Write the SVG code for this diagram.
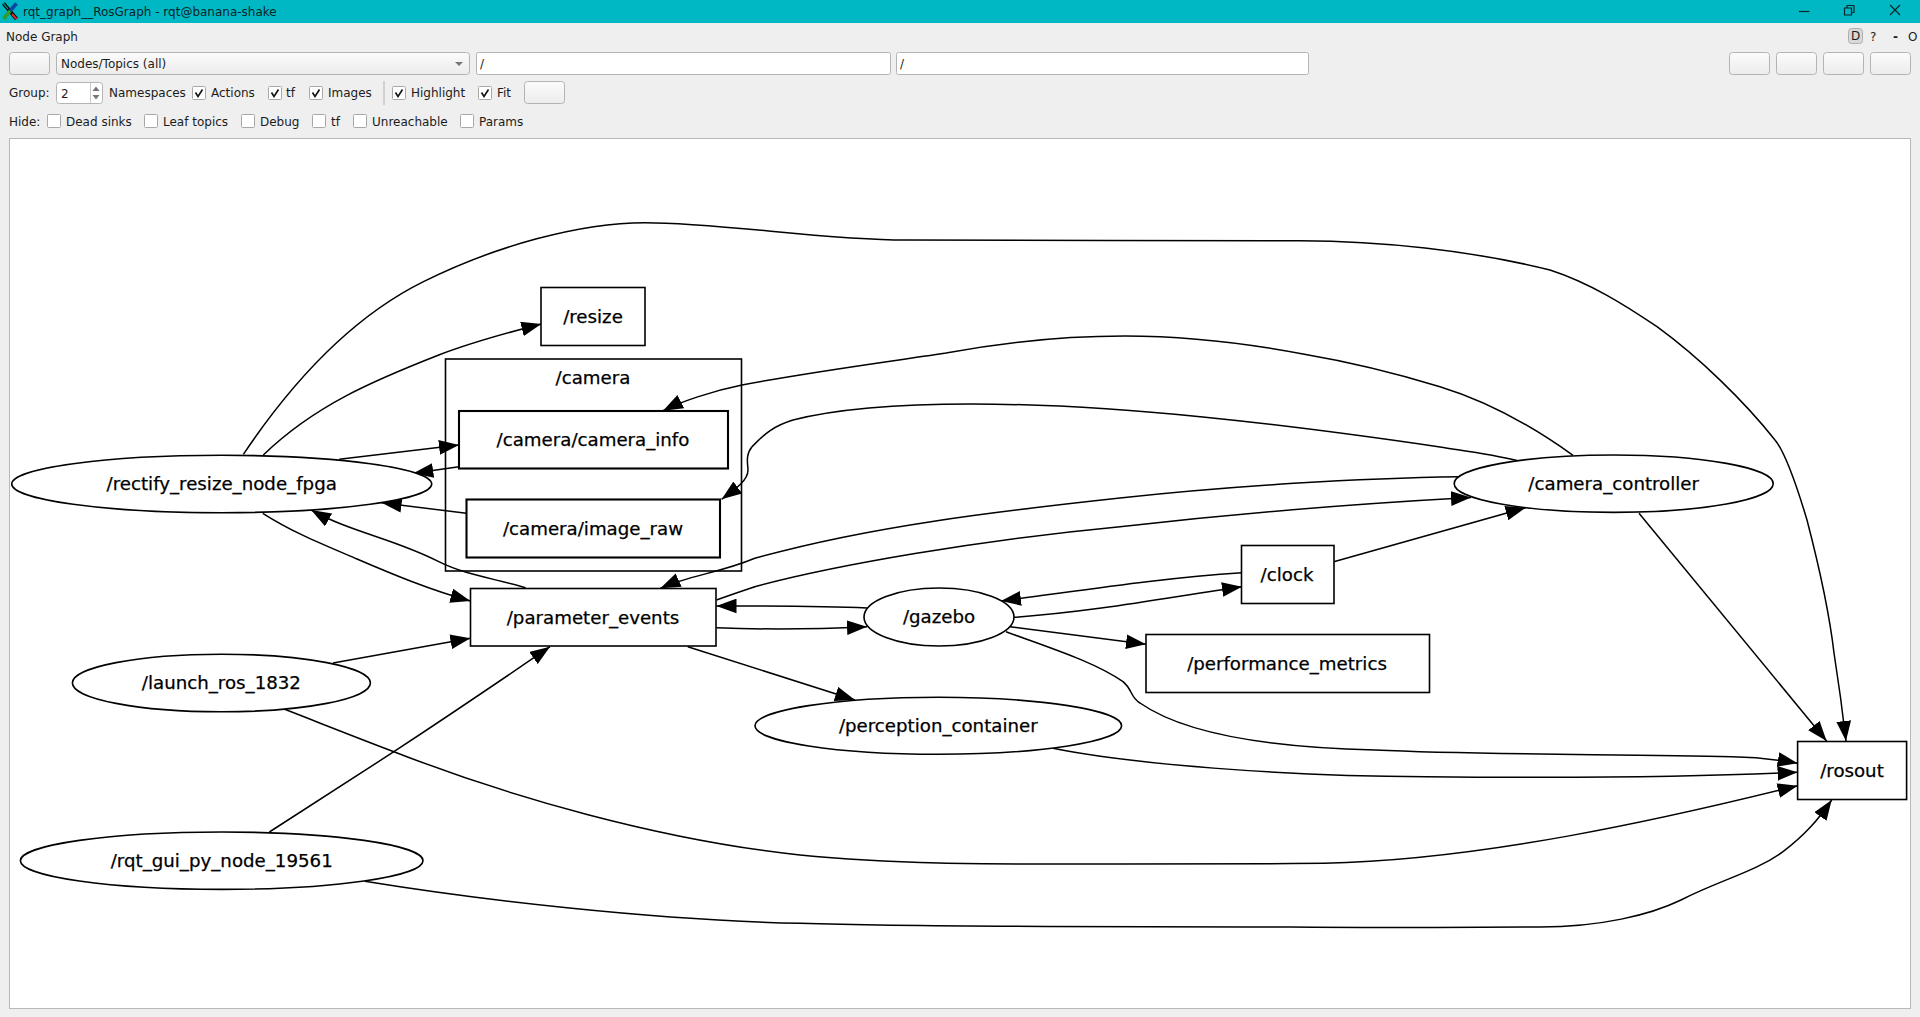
<svg xmlns="http://www.w3.org/2000/svg" width="1920" height="1017" viewBox="0 0 1920 1017">
<defs>
<marker id="ah" markerUnits="userSpaceOnUse" markerWidth="20" markerHeight="15" viewBox="0 0 19 14" refX="19" refY="7" orient="auto"><polygon points="0,0 19,7 0,14" fill="#000"/></marker>
<linearGradient id="btn" x1="0" y1="0" x2="0" y2="1"><stop offset="0" stop-color="#fbfbfb"/><stop offset="1" stop-color="#ececec"/></linearGradient>
</defs>
<style>
text{font-family:"DejaVu Sans",sans-serif}
.ui{font-size:12px;fill:#1c1c1c}
.ttl{font-size:12px;fill:#0a2528}
.b{fill:url(#btn);stroke:#b4b4b4;stroke-width:1}
.i{fill:#fff;stroke:#b4b4b4;stroke-width:1}
.c{fill:#fff;stroke:#a8a8a8;stroke-width:1}
.t{fill:none;stroke:#111;stroke-width:1.6}
.n{fill:#fff;stroke:#000;stroke-width:1.6}
.n2{fill:#fff;stroke:#000;stroke-width:2.1}
.lb{font-size:18.2px;fill:#000;stroke:#000;stroke-width:.25;text-anchor:middle;transform:translateY(-1px)}
#edges path{fill:none;stroke:#000;stroke-width:1.5;marker-end:url(#ah)}
</style>
<rect width="1920" height="1017" fill="#efefef"/>
<g id="window">
<rect width="1920" height="23" fill="#00b8c4"/>
<g fill="none" stroke-linecap="butt"><path d="M3.5,3.5 L16.5,19" stroke="#000" stroke-width="3.6"/><path d="M16.5,3.5 L10,11" stroke="#0d47a1" stroke-width="3.6"/><path d="M10,11 L3.5,19" stroke="#2e9e2e" stroke-width="3.6"/><path d="M3.5,3.5 L8,9" stroke="#12806a" stroke-width="1.6"/><path d="M12,14 L16.5,19" stroke="#d32f2f" stroke-width="2"/></g>
<text class="ttl" x="23" y="16">rqt_graph__RosGraph - rqt@banana-shake</text>
<path d="M1799,11.5 H1809.5" stroke="#0a2528" stroke-width="1.2"/>
<path d="M1844.5,8 H1851.5 V15 H1844.5 Z M1847,8 V5.5 H1854 V12.5 H1851.5" fill="none" stroke="#0a2528" stroke-width="1.2"/>
<path d="M1890,5 L1900,15 M1900,5 L1890,15" stroke="#0a2528" stroke-width="1.2"/>
<text class="ui" x="6" y="41">Node Graph</text>
<rect x="1848.5" y="28.5" width="14" height="15" rx="3" fill="#d8d8d8" stroke="#b0b0b0"/>
<text class="ui" x="1851" y="40">D</text>
<text class="ui" x="1870" y="41">?</text>
<text class="ui" x="1893" y="41" font-weight="bold">-</text>
<text class="ui" x="1908" y="41">O</text>
<rect class="b" x="9.5" y="52.5" width="40" height="22" rx="3"/>
<rect class="b" x="56.5" y="52.5" width="413" height="22" rx="3"/>
<text class="ui" x="61" y="68">Nodes/Topics (all)</text>
<polygon points="455,62 463,62 459,66" fill="#777"/>
<rect class="i" x="476.5" y="52.5" width="414" height="22" rx="2"/>
<text class="ui" x="480" y="68">/</text>
<rect class="i" x="896.5" y="52.5" width="412" height="22" rx="2"/>
<text class="ui" x="900" y="68">/</text>
<rect class="b" x="1729.5" y="52.5" width="40" height="22" rx="3"/>
<rect class="b" x="1776.5" y="52.5" width="40" height="22" rx="3"/>
<rect class="b" x="1823.5" y="52.5" width="40" height="22" rx="3"/>
<rect class="b" x="1870.5" y="52.5" width="40" height="22" rx="3"/>
<text class="ui" x="9" y="97">Group:</text>
<rect class="i" x="56.5" y="82.5" width="46" height="21" rx="3"/>
<path d="M90.5,83 V103" stroke="#c8c8c8"/>
<polygon points="96,86.5 92.5,91 99.5,91" fill="#777"/><polygon points="96,99.5 92.5,95 99.5,95" fill="#777"/>
<text class="ui" x="61" y="98">2</text>
<text class="ui" x="109" y="97">Namespaces</text>
<rect class="c" x="192.5" y="86.5" width="13" height="13" rx="1"/><path class="t" d="M195.5,92.5 L198,96.5 L202.5,89.5"/>
<text class="ui" x="211" y="97">Actions</text>
<rect class="c" x="268.5" y="86.5" width="13" height="13" rx="1"/><path class="t" d="M271.5,92.5 L274,96.5 L278.5,89.5"/>
<text class="ui" x="286" y="97">tf</text>
<rect class="c" x="309.5" y="86.5" width="13" height="13" rx="1"/><path class="t" d="M312.5,92.5 L315,96.5 L319.5,89.5"/>
<text class="ui" x="328" y="97">Images</text>
<path d="M384,81 V105" stroke="#b4b4b4"/>
<rect class="c" x="392.5" y="86.5" width="13" height="13" rx="1"/><path class="t" d="M395.5,92.5 L398,96.5 L402.5,89.5"/>
<text class="ui" x="411" y="97">Highlight</text>
<rect class="c" x="478.5" y="86.5" width="13" height="13" rx="1"/><path class="t" d="M481.5,92.5 L484,96.5 L488.5,89.5"/>
<text class="ui" x="497" y="97">Fit</text>
<rect class="b" x="524.5" y="81.5" width="40" height="22" rx="3"/>
<text class="ui" x="9" y="126">Hide:</text>
<rect class="c" x="47.5" y="114.5" width="13" height="13" rx="1"/><text class="ui" x="66" y="126">Dead sinks</text>
<rect class="c" x="144.5" y="114.5" width="13" height="13" rx="1"/><text class="ui" x="163" y="126">Leaf topics</text>
<rect class="c" x="241.5" y="114.5" width="13" height="13" rx="1"/><text class="ui" x="260" y="126">Debug</text>
<rect class="c" x="312.5" y="114.5" width="13" height="13" rx="1"/><text class="ui" x="331" y="126">tf</text>
<rect class="c" x="353.5" y="114.5" width="13" height="13" rx="1"/><text class="ui" x="372" y="126">Unreachable</text>
<rect class="c" x="460.5" y="114.5" width="13" height="13" rx="1"/><text class="ui" x="479" y="126">Params</text>
<rect x="9.5" y="138.5" width="1901" height="870" fill="#fff" stroke="#b8b8b8"/>
</g>
<g id="camera"><rect x="445.5" y="359" width="296" height="212" fill="none" stroke="#000" stroke-width="1.6"/><text class="lb" x="593" y="385">/camera</text></g>
<g id="edges">
<path d="M243.4,454.3 C290,385 350,318 423.5,281.7 C495,246 580,222.7 645,222.7 C720,222.7 825,240 905,240 C1000,240.5 1200,240.5 1300,240.7 C1380,241 1470,250 1550,270 C1590,283 1625,305 1657,326.7 C1700,358 1745,402 1775,440 C1785,452 1798,490 1807,520 C1820,570 1829,610 1834,653 C1839,685 1843,715 1846,741"/>
<path d="M263.3,455 C315,405 375,380 438.8,355 C470,343 510,332 541.3,324"/>
<path d="M339.3,459.3 L459,445"/>
<path d="M459,466.7 L413.3,473.3"/>
<path d="M466.3,513.3 L381.6,502.7"/>
<path d="M525.5,587.7 C497,579 465,575 438.8,561.7 C395,539 350,532 311.2,510"/>
<path d="M262.8,513.3 C292,532 322,544 357,559 C392,574 430,590 470.4,601"/>
<path d="M333,663 L470.4,638.3"/>
<path d="M269.4,832 C310,806 352,779 393.9,751.7 C445,718 497,683 550,646.7"/>
<path d="M687.8,646.7 L855,700"/>
<path d="M284.7,709.3 C320,723 355,737 393.9,751.7 C510,797 660,840 800,855 C900,865 1000,864 1120,864 C1200,864 1260,864 1324,863.3 C1480,860 1660,820 1797.6,785.7"/>
<path d="M364.8,881.3 C480,900 650,920 800,923.3 C950,928 1150,926 1290,927 C1400,928 1480,927 1540,927 C1600,927 1650,915 1681,900 C1720,880 1755,872 1783,851.7 C1805,835 1818,820 1831.7,800"/>
<path d="M1573,455.3 C1535,428 1490,402 1440,386.7 C1395,373 1350,362 1303,354 C1245,343 1180,336 1124.7,336 C1060,336 1000,343 946,353 C880,363 810,372 742,385 C712,391 680,402 663,410.7"/>
<path d="M1517,460.5 C1490,454 1465,451 1440,447 C1290,425 1120,404 971.6,404 C900,404 840,408 793,420 C770,427 762,437 752,446.7 C745,455 748,465 748,470 C748,480 737,488 721.6,499.3"/>
<path d="M1459.3,476.7 C1360,478 1230,486 1120,498 C1000,511 870,526 754.8,558.3 C720,573 690,575 660.4,588.3"/>
<path d="M716.5,600 C730,595 742,591 754.8,586.7 C835,565 980,540 1120,526.7 C1240,513 1370,503 1471,497.5"/>
<path d="M867,608 C820,606 770,606 716.5,606"/>
<path d="M716.5,627.7 C760,629.5 820,629 867,626.7"/>
<path d="M1242,572.7 C1160,578 1085,590 1001,601"/>
<path d="M1014,617.3 C1100,611 1170,597 1242,586.7"/>
<path d="M1010,626.7 L1146,644.3"/>
<path d="M1006,631.7 C1050,648 1095,662 1123,681.7 C1133,690 1130,697 1140,703 C1190,738 1290,748 1375,750 C1480,755 1620,754 1732,756.7 C1760,757 1780,760 1797.6,763.3"/>
<path d="M1053,748.3 C1130,764 1280,776 1426,776.7 C1550,778 1680,778 1797.6,772.3"/>
<path d="M1639,513.3 L1826.6,741"/>
<path d="M1333.8,561.7 L1525.6,507.7"/>
</g>
<g id="resize"><rect class="n" x="541" y="287.5" width="104" height="58"/><text class="lb" x="593" y="324">/resize</text></g>
<g id="camera_info"><rect class="n2" x="459" y="411" width="269" height="57.5"/><text class="lb" x="593" y="447">/camera/camera_info</text></g>
<g id="image_raw"><rect class="n2" x="466.5" y="499.5" width="253.5" height="58"/><text class="lb" x="593" y="536">/camera/image_raw</text></g>
<g id="parameter_events"><rect class="n" x="470.5" y="588.5" width="245.5" height="57.5"/><text class="lb" x="593" y="625">/parameter_events</text></g>
<g id="clock"><rect class="n" x="1241.5" y="545.5" width="92.5" height="58"/><text class="lb" x="1287" y="582">/clock</text></g>
<g id="performance_metrics"><rect class="n" x="1146" y="634.5" width="283.5" height="58"/><text class="lb" x="1287" y="671">/performance_metrics</text></g>
<g id="rosout"><rect class="n" x="1797.6" y="741.5" width="109" height="58"/><text class="lb" x="1852" y="778">/rosout</text></g>
<g id="rectify_resize_node_fpga"><ellipse class="n" cx="221.7" cy="484" rx="210" ry="28.7"/><text class="lb" x="221.7" y="491">/rectify_resize_node_fpga</text></g>
<g id="launch_ros_1832"><ellipse class="n" cx="221.4" cy="683" rx="149" ry="28.8"/><text class="lb" x="221.4" y="690">/launch_ros_1832</text></g>
<g id="rqt_gui_py_node_19561"><ellipse class="n" cx="221.7" cy="860.7" rx="201.3" ry="28.7"/><text class="lb" x="221.7" y="868">/rqt_gui_py_node_19561</text></g>
<g id="gazebo"><ellipse class="n" cx="939" cy="617" rx="75" ry="29"/><text class="lb" x="939" y="624">/gazebo</text></g>
<g id="perception_container"><ellipse class="n" cx="938.3" cy="725.8" rx="183.3" ry="28.5"/><text class="lb" x="938.3" y="733">/perception_container</text></g>
<g id="camera_controller"><ellipse class="n" cx="1613.7" cy="483.7" rx="159.5" ry="28.7"/><text class="lb" x="1613.7" y="491">/camera_controller</text></g>
</svg>
